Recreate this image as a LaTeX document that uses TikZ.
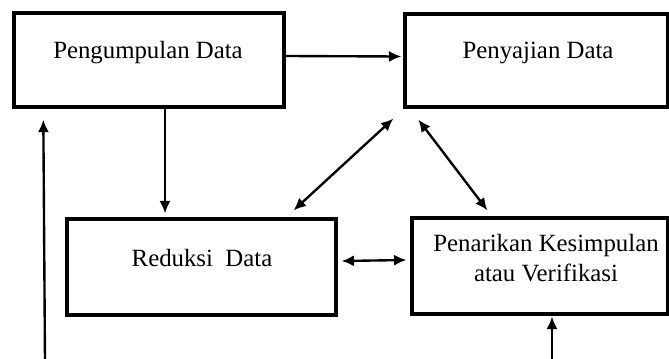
\documentclass[tikz,border=0pt]{standalone}
\usepackage{fontspec}
\setmainfont{Liberation Serif}
\usetikzlibrary{arrows.meta}
\tikzset{
	kotak/.style={draw,line width=1.6pt,minimum width=#1,inner sep=0pt},
	teks/.style={font=\fontsize{12}{14.5}\selectfont,align=center,inner sep=0pt}
}
\begin{document}
\begin{tikzpicture}[>={Latex[length=6pt,width=5.4pt]}, x=0.017cm, y=-0.017cm, color=black, line width=1.15pt]
		\useasboundingbox (0,0) rectangle (669,359);
		% kotak
		\node[kotak=4.59cm, minimum height=1.6cm] (peng) at (149,60) {};
		\node[kotak=4.47cm, minimum height=1.58cm] (peny) at (536.5,60.5) {};
		\node[kotak=4.57cm, minimum height=1.63cm] (redu) at (201.5,267) {};
		\node[kotak=4.35cm, minimum height=1.63cm] (pena) at (540,266) {};
		\node[teks] (tpeng) at (148,53) {Pengumpulan Data};
		\node[teks] (tpeny) at (538,53) {Penyajian Data};
		\node[teks] (tredu) at (202,258) {Reduksi\ \ Data};
		\node[teks] (tpena) at (546,258) {Penarikan Kesimpulan\\atau Verifikasi};
		% panah
		\draw[->] ([shift={(0,-4)}]peng.east) -- ([shift={(-2,-4)}]peny.west);
		\draw[->] ([shift={(16,0)}]peng.south) -- ([shift={(-36.5,-4)}]redu.north);
		\draw[<->] ([shift={(-44,-7)}]redu.north east) -- ([shift={(-10,10)}]peny.south west);
		\draw[<->] ([shift={(15,11)}]peny.south west) -- ([shift={(77,-6)}]pena.north west);
		\draw[<->] ([shift={(4,-6)}]redu.east) -- ([shift={(-4,-6)}]pena.west);
		\coordinate (kiri) at (45,362);
		\coordinate (kanan) at (552,362);
		\draw[->] (kiri) -- ([shift={(31,11)}]peng.south west);
		\draw[->] (kanan) -- ([shift={(12,1)}]pena.south);
		\end{tikzpicture}
\end{document}
